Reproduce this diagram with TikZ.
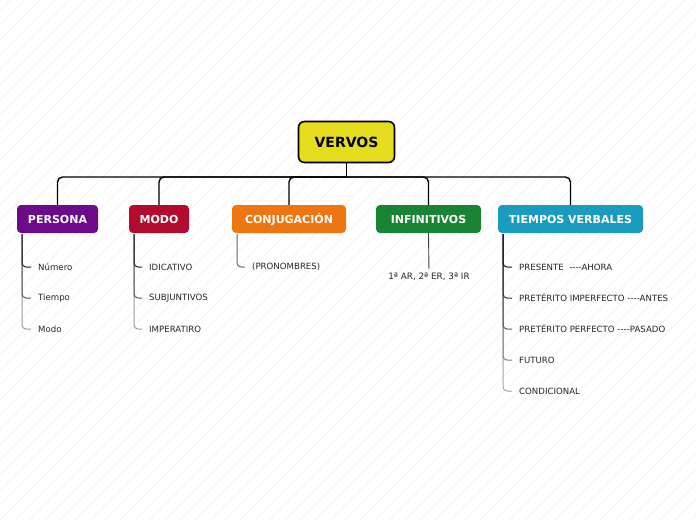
\documentclass[tikz,border=0pt]{standalone}
\usepackage{fontspec}
\setmainfont{DejaVu Sans}[Ligatures=TeXOff]
\begin{document}
\begin{tikzpicture}[x=1pt,y=-1pt,
  topic/.style={rounded corners=4pt, inner sep=0pt, minimum height=28pt, text=white, font=\fontsize{11}{13}\selectfont\bfseries},
  conn/.style={line width=1.4pt, black, rounded corners=5pt},
  leaf/.style={anchor=west, inner sep=1pt, font=\fontsize{8.6}{10}\selectfont, text=black!85},
  branch/.style={line width=1pt, rounded corners=4pt}
]
\definecolor{cYel}{HTML}{E6DC1E}
\definecolor{cPur}{HTML}{6C0B8A}
\definecolor{cRed}{HTML}{B30B2D}
\definecolor{cOra}{HTML}{EE7510}
\definecolor{cGre}{HTML}{198534}
\definecolor{cBlu}{HTML}{1A9BC0}
\useasboundingbox (0,0) rectangle (696,520);
\fill[white] (0,0) rectangle (696,520);
\begin{scope}
\clip (0,0) rectangle (696,520);
\foreach \c in {-525,-510,...,700} \draw[black!6, line width=0.5pt] (\c,520) -- (\c+520,0);
\end{scope}

\node[draw=black, line width=1.6pt, fill=cYel, rounded corners=6pt, minimum width=96pt, minimum height=41pt, font=\fontsize{14}{16}\selectfont\bfseries] (vervos) at (346.5,142) {VERVOS};

\node[topic, fill=cPur, minimum width=81pt] (persona) at (57.5,219) {PERSONA};
\node[topic, fill=cRed, minimum width=60pt] (modo) at (159,219) {MODO};
\node[topic, fill=cOra, minimum width=114pt] (conj) at (289,219) {CONJUGACIÓN};
\node[topic, fill=cGre, minimum width=105pt] (inf) at (428.5,219) {INFINITIVOS};
\node[topic, fill=cBlu, minimum width=145pt] (tiem) at (570.5,219) {TIEMPOS VERBALES};

\coordinate (bar) at (346.5,177);
\draw[line width=1.4pt] (vervos.south) -- (bar);
\foreach \n in {persona,modo,conj,inf,tiem}
  \draw[conn] (bar) -| (\n.north);

% PERSONA
\node[leaf] (p1) at (37,267) {Número};
\node[leaf] (p2) at (37,298) {Tiempo};
\node[leaf] (p3) at (37,329) {Modo};
\coordinate (pt) at (22,234);
\draw[branch, black!40] (pt) |- ([xshift=-6pt]p3.west);
\draw[branch, black!65] (pt) |- ([xshift=-6pt]p2.west);
\draw[branch, black!88] (pt) |- ([xshift=-6pt]p1.west);

% MODO
\node[leaf] (m1) at (148,267) {IDICATIVO};
\node[leaf] (m2) at (148,298) {SUBJUNTIVOS};
\node[leaf] (m3) at (148,329) {IMPERATIRO};
\coordinate (mt) at (134,234);
\draw[branch, black!40] (mt) |- ([xshift=-6pt]m3.west);
\draw[branch, black!65] (mt) |- ([xshift=-6pt]m2.west);
\draw[branch, black!88] (mt) |- ([xshift=-6pt]m1.west);

% CONJUGACION
\node[leaf] (c1) at (251,267) {(PRONOMBRES)};
\coordinate (ct) at (237,234);
\draw[branch, black!60] (ct) |- ([xshift=-6pt]c1.west);

% INFINITIVOS
\node[inner sep=1pt, font=\fontsize{8.8}{10}\selectfont, text=black!85] (i1) at (429,277) {1ª AR, 2ª ER, 3ª IR};
\draw[line width=0.9pt, black!75, shorten >=3pt] (inf.south) -- (i1.north);

% TIEMPOS
\node[leaf] (t1) at (518,267) {PRESENTE\ \ ----AHORA};
\node[leaf] (t2) at (518,298) {PRETÉRITO IMPERFECTO ----ANTES};
\node[leaf] (t3) at (518,329) {PRETÉRITO PERFECTO ----PASADO};
\node[leaf] (t4) at (518,360) {FUTURO};
\node[leaf] (t5) at (518,391) {CONDICIONAL};
\coordinate (tt) at (503,234);
\draw[branch, black!35] (tt) |- ([xshift=-6pt]t5.west);
\draw[branch, black!50] (tt) |- ([xshift=-6pt]t4.west);
\draw[branch, black!65] (tt) |- ([xshift=-6pt]t3.west);
\draw[branch, black!80] (tt) |- ([xshift=-6pt]t2.west);
\draw[branch, black!92] (tt) |- ([xshift=-6pt]t1.west);
\end{tikzpicture}
\end{document}
